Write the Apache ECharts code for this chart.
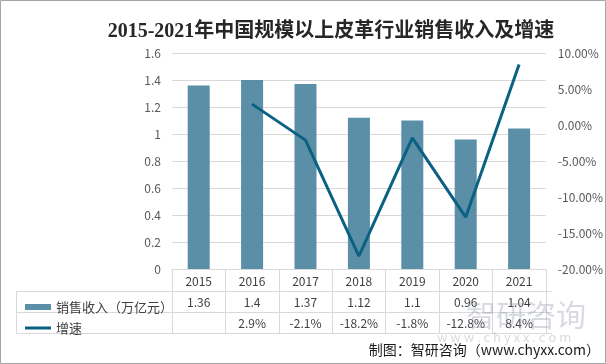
<!DOCTYPE html>
<html><head><meta charset="utf-8">
<script src="https://cdn.jsdelivr.net/npm/echarts@6/dist/echarts.min.js"></script>
<style>html,body{margin:0;padding:0;background:#fff}#c{width:606px;height:364px}</style>
</head><body><div id="c"></div>
<script>
var years = ['2015','2016','2017','2018','2019','2020','2021'];
var income = [1.36, 1.4, 1.37, 1.12, 1.1, 0.96, 1.04];
var growth = [null, 2.9, -2.1, -18.2, -1.8, -12.8, 8.4];
var leftTicks = {min: 0, max: 1.6, interval: 0.2};
var rightTicks = {min: -20, max: 10, interval: 5};
var titleText = '2015-2021年中国规模以上皮革行业销售收入及增速';
var incomeName = '销售收入（万亿元）';
var growthName = '增速';
var sourceText = '制图：智研咨询（www.chyxx.com）';

var FONT = '"Noto Sans CJK SC", "Microsoft YaHei", sans-serif';
var gridColor = '#d9d9d9';
var labelColor = '#595959';
var tableText = '#404040';

var chart = echarts.init(document.getElementById('c'));
var incomeLabels = income.map(function(v){ return String(v); });
var growthLabels = growth.map(function(v){ return v == null ? '' : v.toFixed(1) + '%'; });

function hiddenRowAxis(data, offset) {
  return {
    type: 'category', gridIndex: 0, position: 'bottom', offset: offset,
    data: data, axisLine: {show: false}, axisTick: {show: false},
    axisLabel: {interval: 0, margin: 6, color: tableText, fontSize: 12, fontFamily: FONT},
    splitLine: {show: false}
  };
}

chart.setOption({
  animation: false,
  title: {
    text: titleText, left: 326, top: 17, textAlign: 'center',
    textStyle: {fontSize: 20, fontWeight: 'bold', color: '#262626',
      fontFamily: '"Liberation Serif", "Noto Sans CJK SC", serif'}
  },
  legend: {
    orient: 'vertical', left: 20, top: 295, itemWidth: 26, itemHeight: 6, itemGap: 7,
    textStyle: {fontSize: 13, color: tableText, fontFamily: FONT, lineHeight: 14},
    data: [
      {name: incomeName, icon: 'rect'},
      {name: growthName, icon: 'path://M0,0L0.01,0L0.01,6L0,6Z M0,1.5L26,1.5L26,4.5L0,4.5Z'}
    ]
  },
  grid: {left: 172, right: 54, top: 53, height: 216},
  xAxis: [
    {
      type: 'category', data: years,
      axisLine: {lineStyle: {color: gridColor}},
      axisTick: {show: true, length: 65, lineStyle: {color: gridColor}},
      axisLabel: {margin: 6, color: tableText, fontSize: 12, fontFamily: FONT}
    },
    hiddenRowAxis(incomeLabels, 21),
    hiddenRowAxis(growthLabels, 42)
  ],
  yAxis: [
    {
      type: 'value', min: leftTicks.min, max: leftTicks.max, interval: leftTicks.interval,
      axisLine: {show: false}, axisTick: {show: false},
      axisLabel: {margin: 11, color: labelColor, fontSize: 12, fontFamily: FONT},
      splitLine: {lineStyle: {color: gridColor}}
    },
    {
      type: 'value', min: rightTicks.min, max: rightTicks.max, interval: rightTicks.interval,
      axisLine: {show: false}, axisTick: {show: false}, splitLine: {show: false},
      axisLabel: {margin: 12, color: labelColor, fontSize: 12, fontFamily: FONT,
        formatter: function(v){ return v.toFixed(2) + '%'; }}
    }
  ],
  series: [
    {name: incomeName, type: 'bar', data: income, barWidth: 22,
      itemStyle: {color: '#5b8fa8'}},
    {name: growthName, type: 'line', yAxisIndex: 1, data: growth, symbol: 'none',
      lineStyle: {width: 3, color: '#0b6182'}, itemStyle: {color: '#0b6182'}}
  ],
  graphic: [
    {type: 'rect', shape: {x: 0.5, y: 0.5, width: 605, height: 363},
      style: {fill: 'none', stroke: '#a6a6a6', lineWidth: 1}, silent: true},
    {type: 'line', shape: {x1: 16.5, y1: 291.5, x2: 552, y2: 291.5}, style: {stroke: gridColor}},
    {type: 'line', shape: {x1: 16.5, y1: 312.5, x2: 552, y2: 312.5}, style: {stroke: gridColor}},
    {type: 'line', shape: {x1: 16.5, y1: 333.5, x2: 552, y2: 333.5}, style: {stroke: gridColor}},
    {type: 'line', shape: {x1: 16.5, y1: 291.5, x2: 16.5, y2: 333.5}, style: {stroke: gridColor}},
    {type: 'text', left: 466, top: 300, z: 100,
      style: {text: '智研咨询', fontSize: 30, fill: 'rgba(140,150,165,0.35)', fontFamily: FONT}},
    {type: 'text', left: 437, top: 331, z: 100,
      style: {text: 'w w w . c h y x x . c o m', fontSize: 13, fill: 'rgba(140,150,165,0.35)', fontFamily: FONT}},
    {type: 'text', right: 6, top: 343,
      style: {text: sourceText, fontSize: 14, fill: '#1a1a1a', fontFamily: FONT}}
  ]
});
</script></body></html>
